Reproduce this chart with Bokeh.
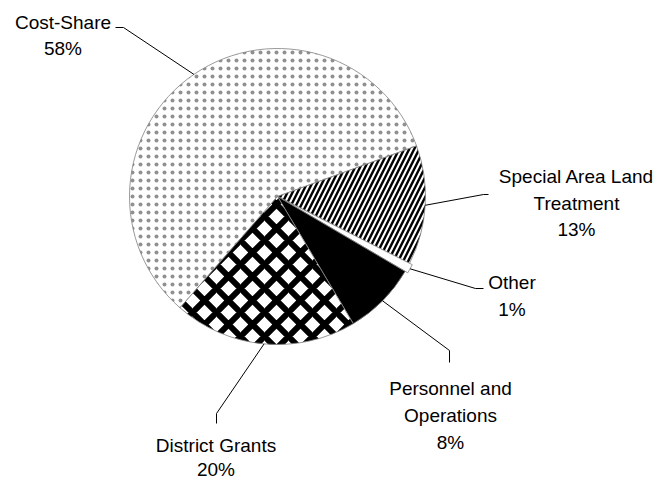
import numpy as np
from bokeh.plotting import figure
from bokeh.models import ColumnDataSource, Range1d
from bokeh.core.properties import value
from bokeh.embed import file_html
from bokeh.resources import INLINE

# ---- data ----
categories = ["Cost-Share", "Special Area Land Treatment", "Other",
              "Personnel and Operations", "District Grants"]
shares = [58, 13, 1, 8, 20]
label_lines = [["Cost-Share"], ["Special Area Land", "Treatment"], ["Other"],
               ["Personnel and", "Operations"], ["District Grants"]]

# ---- styles ----
fill_colors = ["white", "white", "white", "black", "white"]
patterns = ["dot", "right_diagonal_line", "blank", "blank", "diagonal_cross"]
hatch_colors = ["#222222", "black", "black", "black", "black"]
hatch_scales = [8, 10, 10, 10, 24]
hatch_weights = [0.2, 2.4, 1, 1, 6.0]
hatch_alphas = [0.5, 1.0, 1.0, 1.0, 1.0]
explode = [0, 0, 3, 0, 0]

# label layout (image pixel coordinates, y downwards)
label_x = [62.5, 576, 511.5, 450, 215.5]
label_y0 = [21.7, 176, 281.7, 388.3, 445]
line_step = [26.6, 26.6, 27.4, 26.7, 24.0]
elbow1 = [(123, 27), (483, 194), (475, 288), (449, 350), (216, 413)]
elbow2 = [(115, 27), (488, 194), (483, 288), (449, 362), (216, 423)]

CX, CY, R = 277, 196, 148
START_DEG = 228.8   # first slice starts here and slices run clockwise

W, H = 671, 480
p = figure(width=W, height=H, x_range=Range1d(0, W), y_range=Range1d(-H, 0),
           output_backend="svg", toolbar_location=None, x_axis_type=None, y_axis_type=None,
           min_border=0)
p.outline_line_color = None
for g in p.grid:
    g.visible = False
p.background_fill_color = "white"
p.border_fill_color = "white"

vals = np.array(shares, dtype=float)
frac = vals / vals.sum()
cum = np.concatenate([[0.0], np.cumsum(frac)])
theta = np.deg2rad(START_DEG) - 2 * np.pi * cum
end_a = theta[:-1]
start_a = theta[1:]
mid = (start_a + end_a) / 2
ex = np.array(explode, dtype=float)

src = ColumnDataSource(dict(
    x=CX + ex * np.cos(mid), y=-(CY - ex * np.sin(mid)),
    start=start_a, end=end_a, cat=categories,
    fill=fill_colors, pat=patterns, hc=hatch_colors, hs=hatch_scales, hw=hatch_weights,
    ha=hatch_alphas,
))

p.wedge(x="x", y="y", radius=R, start_angle="start", end_angle="end", source=src,
        fill_color="fill", line_color="#808080", line_width=0.8,
        hatch_pattern="pat", hatch_color="hc", hatch_scale="hs", hatch_weight="hw",
        hatch_alpha="ha")

# leader lines
xs, ys = [], []
for i in range(len(shares)):
    r_i = R + ex[i]
    ex0 = CX + r_i * np.cos(mid[i])
    ey0 = CY - r_i * np.sin(mid[i])
    xs.append([ex0, elbow1[i][0], elbow2[i][0]])
    ys.append([-ey0, -elbow1[i][1], -elbow2[i][1]])
p.multi_line(xs=xs, ys=ys, line_color="black", line_width=1)

# labels
tx, ty, tt = [], [], []
for i in range(len(shares)):
    lines = label_lines[i] + [f"{shares[i]}%"]
    for k, ln in enumerate(lines):
        tx.append(label_x[i])
        ty.append(-(label_y0[i] + k * line_step[i]))
        tt.append(ln)
p.text(x=tx, y=ty, text=tt, text_align="center", text_baseline="alphabetic",
       text_font=value("Liberation Sans"), text_font_size="19px", text_color="black")

open("out.html", "w").write(file_html(p, INLINE))
